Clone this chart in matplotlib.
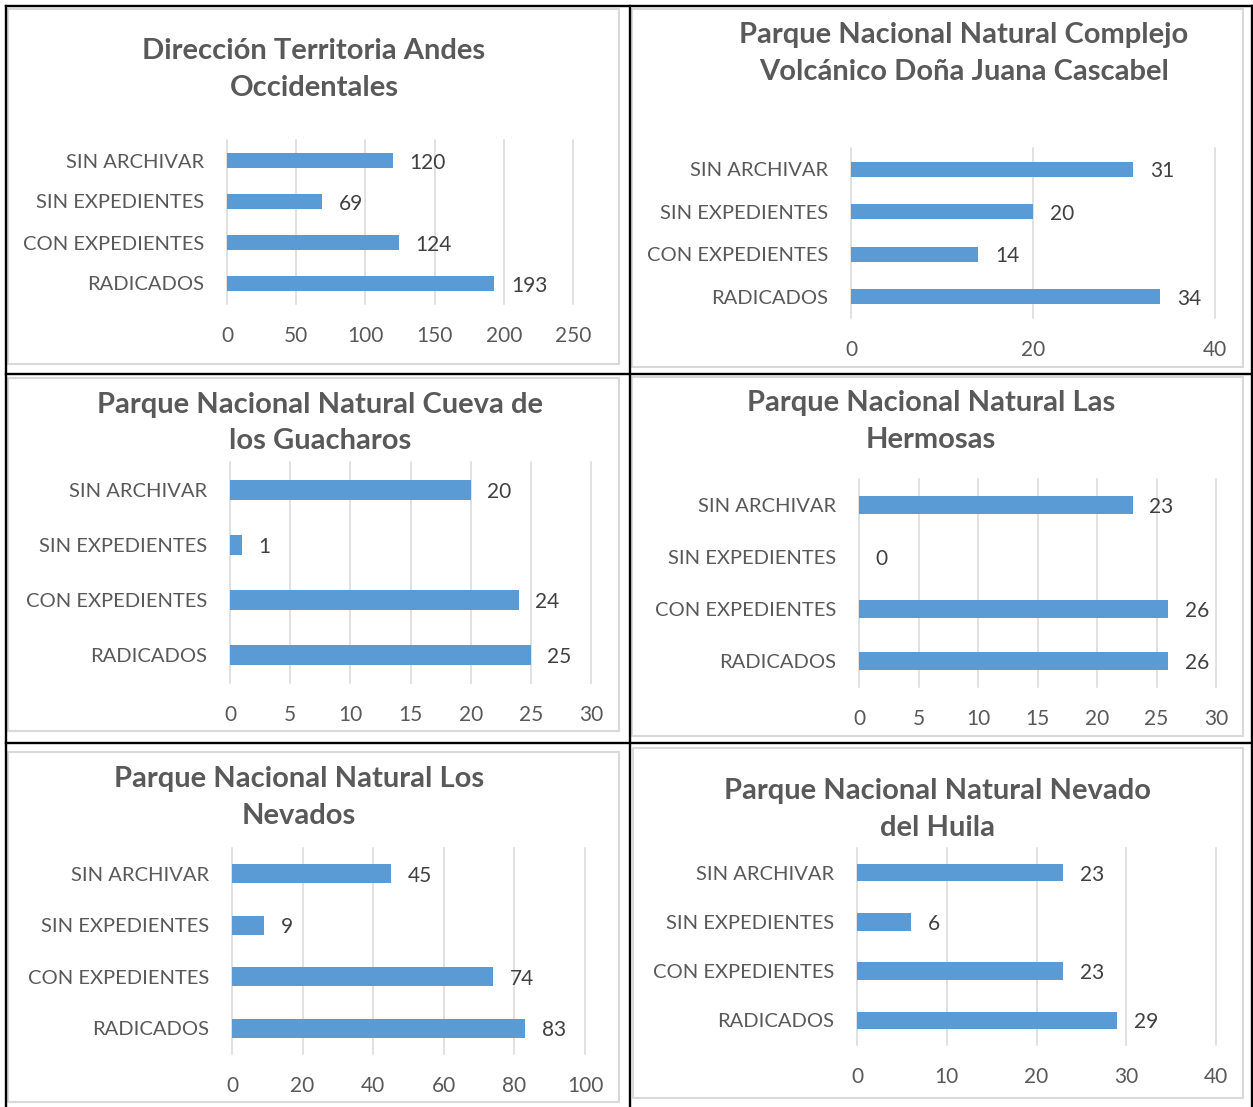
import numpy as np
import matplotlib
matplotlib.use("Agg")
import matplotlib.pyplot as plt
from matplotlib.patches import Rectangle
from matplotlib.lines import Line2D

W, H = 1253, 1107
DPI = 100

# ---------- data (bottom to top, as drawn) ----------
categories = ["RADICADOS", "CON EXPEDIENTES", "SIN EXPEDIENTES", "SIN ARCHIVAR"]

andes_occidentales = [193, 124, 69, 120]
dona_juana = [34, 14, 20, 31]
cueva_guacharos = [25, 24, 1, 20]
las_hermosas = [26, 26, 0, 23]
los_nevados = [83, 74, 9, 45]
nevado_huila = [29, 23, 6, 23]

titles = [
    "Dirección Territoria Andes\nOccidentales",
    "Parque Nacional Natural Complejo\nVolcánico Doña Juana Cascabel",
    "Parque Nacional Natural Cueva de\nlos Guacharos",
    "Parque Nacional Natural Las\nHermosas",
    "Parque Nacional Natural Los\nNevados",
    "Parque Nacional Natural Nevado\ndel Huila",
]
series = [andes_occidentales, dona_juana, cueva_guacharos,
          las_hermosas, los_nevados, nevado_huila]
x_max = [250, 40, 30, 30, 100, 40]
x_step = [50, 20, 5, 5, 20, 10]

# ---------- layout (pixels) ----------
frames = [(7.5, 9, 619, 364), (632, 9, 1243, 367),
          (8, 378, 619, 731), (632, 377, 1243, 736),
          (8, 752, 619, 1102), (633, 748, 1243, 1098)]
plot_boxes = [(227, 140, 573, 304), (851, 148, 1215, 318),
              (230, 462, 591, 683), (859, 479, 1216, 687),
              (232, 848, 585, 1054), (857, 848, 1216, 1045)]
title_pos = [(314, 69.5), (964, 53.5), (320, 423),
             (931, 421.5), (299, 797.5), (938, 809.5)]

BAR = "#5B9BD5"
GRID = "#D9D9D9"
TEXT = "#595959"
LABEL = "#404040"

plt.rcParams['font.family'] = ['Lato', 'DejaVu Sans']

fig = plt.figure(figsize=(W / DPI, H / DPI), dpi=DPI)
fig.patch.set_facecolor("white")

def fx(x): return x / W
def fy(y): return 1 - y / H

for i in range(6):
    # grey chart frame
    x0, y0, x1, y1 = frames[i]
    fig.patches.append(Rectangle((fx(x0), fy(y1)), (x1 - x0) / W, (y1 - y0) / H,
                                 transform=fig.transFigure, fill=False,
                                 ec=GRID, lw=1.5, zorder=1))
    # plot area
    a0, b0, a1, b1 = plot_boxes[i]
    ax = fig.add_axes([fx(a0), fy(b1), (a1 - a0) / W, (b1 - b0) / H])
    vals = series[i]
    ypos = np.arange(len(categories))
    ax.barh(ypos, vals, height=0.36, color=BAR, zorder=3)
    ax.set_xlim(0, x_max[i])
    ax.set_ylim(-0.5, len(categories) - 0.5)
    ticks = np.arange(0, x_max[i] + 1, x_step[i])
    ax.set_xticks(ticks)
    for t in ticks:
        ax.axvline(t, color=GRID, lw=1.1, zorder=0, clip_on=False)
    ax.set_yticks(ypos)
    ax.set_yticklabels(categories)
    for s in ax.spines.values():
        s.set_visible(False)
    ax.tick_params(axis="y", length=0, labelsize=14.5, colors=TEXT, pad=16.5)
    ax.tick_params(axis="x", length=0, labelsize=15, colors=TEXT, pad=16)
    ax.patch.set_alpha(0)
    for y, v in zip(ypos, vals):
        ax.annotate(str(v), (v, y), xytext=(12, -1.5), textcoords="offset points",
                    ha="left", va="center", fontsize=15, color=LABEL)
    # title
    tx, ty = title_pos[i]
    fig.text(fx(tx), fy(ty), titles[i], ha="center", va="center",
             fontsize=21, fontweight="bold", color=TEXT, linespacing=1.5)

# black table lines
for x in (5.5, 630, 1252):
    fig.lines.append(Line2D([fx(x), fx(x)], [fy(5.5), fy(1107)],
                            transform=fig.transFigure, color="black", lw=1.7))
for y in (5.5, 374, 743):
    fig.lines.append(Line2D([fx(5.5), fx(1252)], [fy(y), fy(y)],
                            transform=fig.transFigure, color="black", lw=1.7))

fig.savefig("out.png", dpi=DPI)
